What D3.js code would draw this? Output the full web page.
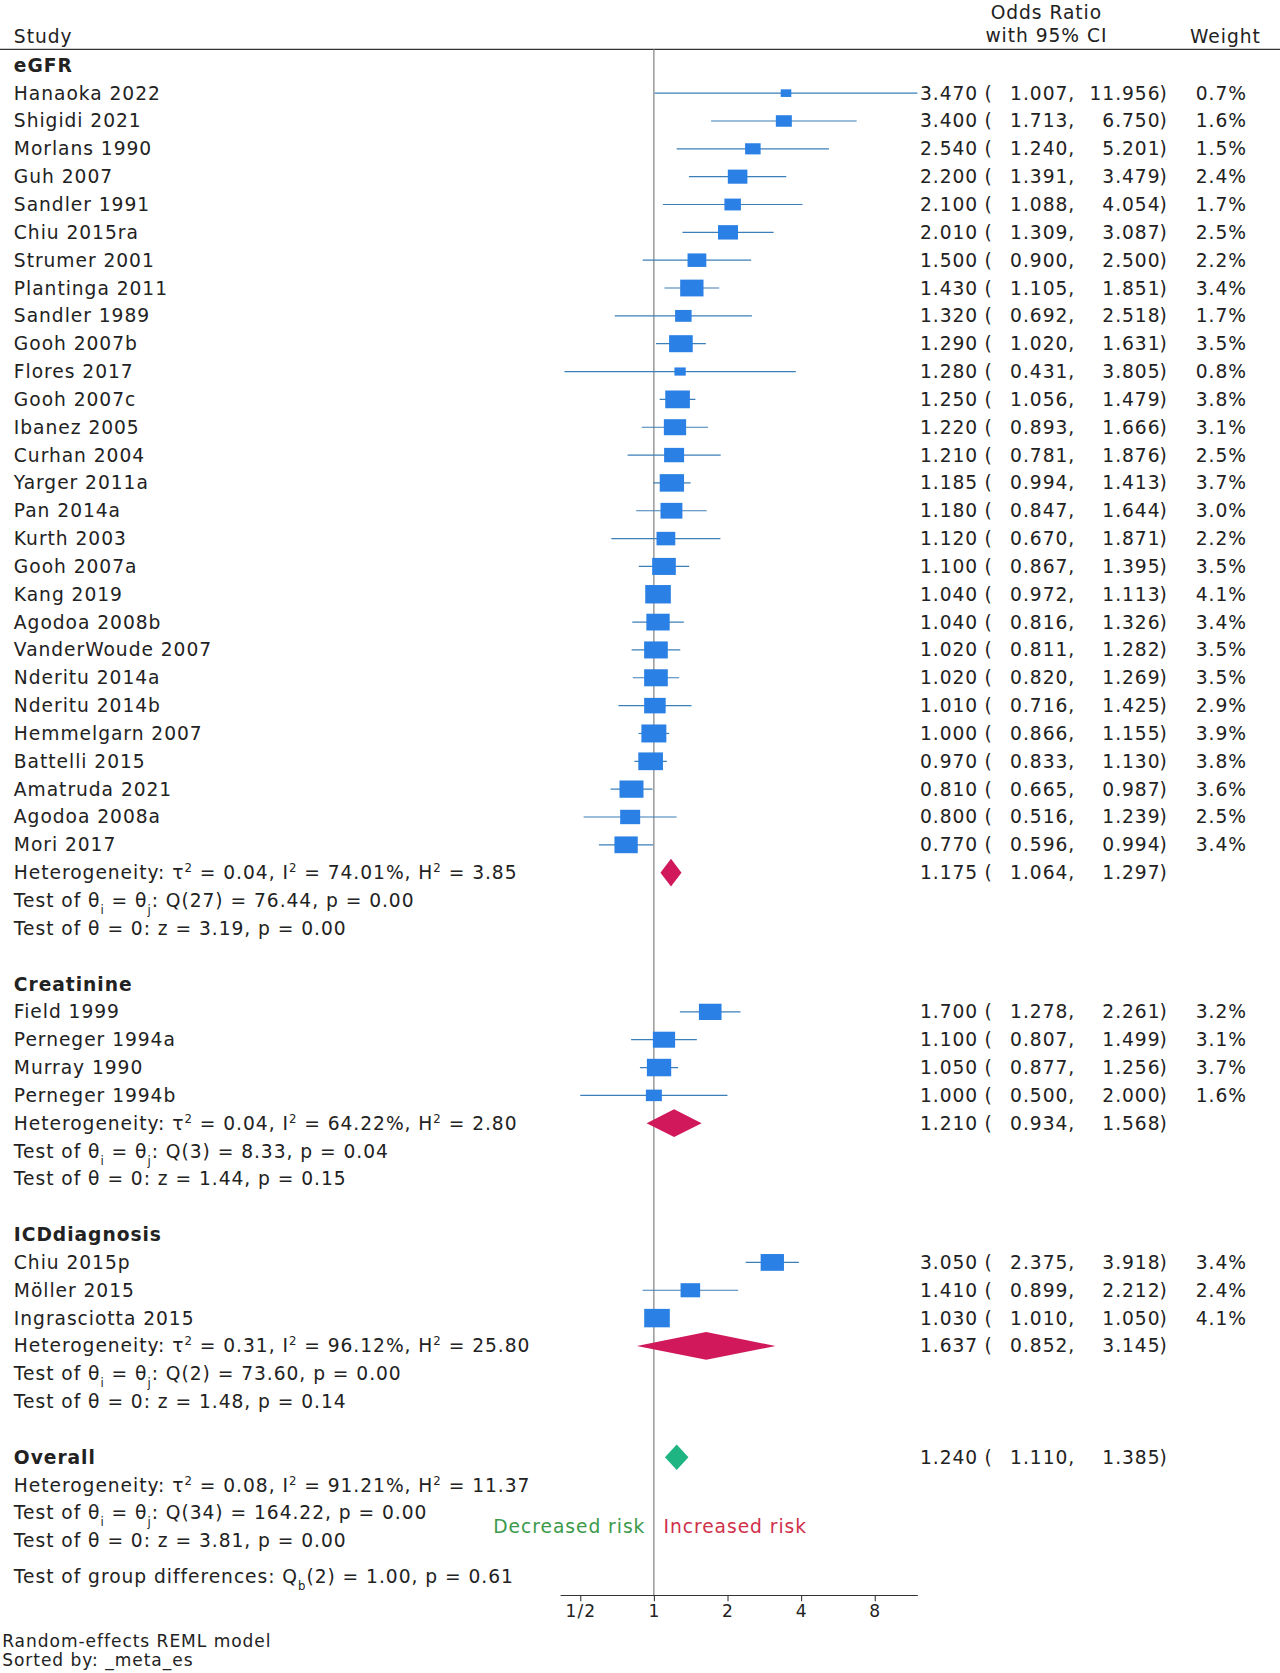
<!DOCTYPE html>
<html><head><meta charset="utf-8">
<script src="https://cdn.jsdelivr.net/npm/d3@7"></script>
<style>
body{margin:0;background:#fff;}
text{font-family:"DejaVu Sans",Arial,sans-serif;font-size:17.5px;letter-spacing:0.9px;fill:#222;}
</style></head><body>
<div id="chart"></div>
<script>
// ---- data ----
var egfrStudies = ["Hanaoka 2022","Shigidi 2021","Morlans 1990","Guh 2007","Sandler 1991","Chiu 2015ra","Strumer 2001","Plantinga 2011","Sandler 1989","Gooh 2007b","Flores 2017","Gooh 2007c","Ibanez 2005","Curhan 2004","Yarger 2011a","Pan 2014a","Kurth 2003","Gooh 2007a","Kang 2019","Agodoa 2008b","VanderWoude 2007","Nderitu 2014a","Nderitu 2014b","Hemmelgarn 2007","Battelli 2015","Amatruda 2021","Agodoa 2008a","Mori 2017"];
var egfrOR = [3.470,3.400,2.540,2.200,2.100,2.010,1.500,1.430,1.320,1.290,1.280,1.250,1.220,1.210,1.185,1.180,1.120,1.100,1.040,1.040,1.020,1.020,1.010,1.000,0.970,0.810,0.800,0.770];
var egfrLo = [1.007,1.713,1.240,1.391,1.088,1.309,0.900,1.105,0.692,1.020,0.431,1.056,0.893,0.781,0.994,0.847,0.670,0.867,0.972,0.816,0.811,0.820,0.716,0.866,0.833,0.665,0.516,0.596];
var egfrHi = [11.956,6.750,5.201,3.479,4.054,3.087,2.500,1.851,2.518,1.631,3.805,1.479,1.666,1.876,1.413,1.644,1.871,1.395,1.113,1.326,1.282,1.269,1.425,1.155,1.130,0.987,1.239,0.994];
var egfrW = [0.7,1.6,1.5,2.4,1.7,2.5,2.2,3.4,1.7,3.5,0.8,3.8,3.1,2.5,3.7,3.0,2.2,3.5,4.1,3.4,3.5,3.5,2.9,3.9,3.8,3.6,2.5,3.4];

var creaStudies = ["Field 1999","Perneger 1994a","Murray 1990","Perneger 1994b"];
var creaOR = [1.700,1.100,1.050,1.000];
var creaLo = [1.278,0.807,0.877,0.500];
var creaHi = [2.261,1.499,1.256,2.000];
var creaW = [3.2,3.1,3.7,1.6];

var icdStudies = ["Chiu 2015p","Möller 2015","Ingrasciotta 2015"];
var icdOR = [3.050,1.410,1.030];
var icdLo = [2.375,0.899,1.010];
var icdHi = [3.918,2.212,1.050];
var icdW = [3.4,2.4,4.1];

var groupNames = ["eGFR","Creatinine","ICDdiagnosis"];
var pooled = [[1.175,1.064,1.297],[1.210,0.934,1.568],[1.637,0.852,3.145]];
var overall = [1.240,1.110,1.385];
// tau2, I2, H2, Q df, Q, p(Q), z, p(z)
var hetText = [
  ["0.04","74.01%","3.85","27","76.44","0.00","3.19","0.00"],
  ["0.04","64.22%","2.80","3","8.33","0.04","1.44","0.15"],
  ["0.31","96.12%","25.80","2","73.60","0.00","1.48","0.14"]
];
var tickVals = [0.5,1,2,4,8];
var tickLabels = ["1/2","1","2","4","8"];

// ---- layout ----
var W = 1200, H = 1568;
var svg = d3.select("#chart").append("svg")
  .attr("width", 1280).attr("height", 1673)
  .attr("viewBox", "0 0 " + W + " " + H);

var x = d3.scaleLog().base(2).domain([1/2.42, 11.95]).range([525, 860]);
var rowStep = 26.1, y0 = 61;
function ry(k) { return y0 + k * rowStep; }
var fmt = d3.format(".3f");
var blue = "#2a80e4", lineCol = "#3c7fb8", red = "#d0185a", green = "#1fb582";

// header
svg.append("text").attr("x", 13).attr("y", 40).text("Study");
svg.append("text").attr("x", 981).attr("y", 18).attr("text-anchor", "middle").text("Odds Ratio");
svg.append("text").attr("x", 981).attr("y", 39).attr("text-anchor", "middle").text("with 95% CI");
svg.append("text").attr("x", 1182).attr("y", 40).attr("text-anchor", "end").text("Weight");
svg.append("line").attr("x1", 0).attr("x2", W).attr("y1", 46).attr("y2", 46).attr("stroke", "#333").attr("stroke-width", 1.2);

// null line
svg.append("line").attr("x1", x(1)).attr("x2", x(1)).attr("y1", 46).attr("y2", 1495)
  .attr("stroke", "#888").attr("stroke-width", 1.2);

function ciText(y, v) {
  svg.append("text").attr("x", 917).attr("y", y).attr("dy", "0.35em").attr("text-anchor", "end").text(fmt(v[0]));
  svg.append("text").attr("x", 923).attr("y", y).attr("dy", "0.35em").text("(");
  svg.append("text").attr("x", 1008).attr("y", y).attr("dy", "0.35em").attr("text-anchor", "end").text(fmt(v[1]) + ",");
  svg.append("text").attr("x", 1088).attr("y", y).attr("dy", "0.35em").attr("text-anchor", "end").text(fmt(v[2]));
  svg.append("text").attr("x", 1087).attr("y", y).attr("dy", "0.35em").text(")");
}

function diamond(y, v, col, hh) {
  var p = [[x(v[1]), y], [x(v[0]), y - hh], [x(v[2]), y], [x(v[0]), y + hh]];
  svg.append("path").attr("d", "M" + p.join("L") + "Z").attr("fill", col);
}

// parts: [text, mode] mode: 0 normal, 1 sup, 2 sub
function richText(xx, y, parts, bold) {
  var t = svg.append("text").attr("x", xx).attr("y", y).attr("dy", "0.35em");
  if (bold) t.style("font-weight", "bold");
  parts.forEach(function (p) {
    var s = t.append("tspan").text(p[0]);
    if (p[1] === 1) s.attr("baseline-shift", "super").style("font-size", "11px");
    if (p[1] === 2) s.attr("baseline-shift", "sub").style("font-size", "11px");
  });
}

function hetLines(k, h) {
  richText(13, ry(k), [["Heterogeneity: τ", 0], ["2", 1], [" = " + h[0] + ", I", 0], ["2", 1], [" = " + h[1] + ", H", 0], ["2", 1], [" = " + h[2], 0]]);
  richText(13, ry(k + 1), [["Test of θ", 0], ["i", 2], [" = θ", 0], ["j", 2], [": Q(" + h[3] + ") = " + h[4] + ", p = " + h[5], 0]]);
  richText(13, ry(k + 2), [["Test of θ = 0: z = " + h[6] + ", p = " + h[7], 0]]);
}

var groups = [
  {names: egfrStudies, or: egfrOR, lo: egfrLo, hi: egfrHi, w: egfrW},
  {names: creaStudies, or: creaOR, lo: creaLo, hi: creaHi, w: creaW},
  {names: icdStudies, or: icdOR, lo: icdLo, hi: icdHi, w: icdW}
];
var sq = d3.scaleSqrt().domain([0, 4.1]).range([0, 24]);

var k = 0;
groups.forEach(function (g, gi) {
  richText(13, ry(k), [[groupNames[gi], 0]], true);
  k++;
  var rows = g.names.map(function (n, i) { return {n: n, or: g.or[i], lo: g.lo[i], hi: g.hi[i], w: g.w[i], k: k + i}; });
  var rg = svg.append("g");
  rg.selectAll("text.nm").data(rows).enter().append("text").attr("class", "nm")
    .attr("x", 13).attr("y", function (d) { return ry(d.k); }).attr("dy", "0.35em").text(function (d) { return d.n; });
  rg.selectAll("line.ci").data(rows).enter().append("line").attr("class", "ci")
    .attr("x1", function (d) { return x(d.lo); }).attr("x2", function (d) { return x(d.hi); })
    .attr("y1", function (d) { return ry(d.k); }).attr("y2", function (d) { return ry(d.k); })
    .attr("stroke", lineCol).attr("stroke-width", 1.1);
  rg.selectAll("rect").data(rows).enter().append("rect")
    .attr("x", function (d) { return x(d.or) - sq(d.w) / 2; })
    .attr("y", function (d) { return ry(d.k) - sq(d.w) * 0.36; })
    .attr("width", function (d) { return sq(d.w); })
    .attr("height", function (d) { return sq(d.w) * 0.72; })
    .attr("fill", blue);
  rows.forEach(function (d) {
    ciText(ry(d.k), [d.or, d.lo, d.hi]);
    svg.append("text").attr("x", 1169).attr("y", ry(d.k)).attr("dy", "0.35em").attr("text-anchor", "end").text(d.w.toFixed(1) + "%");
  });
  k += rows.length;
  diamond(ry(k), pooled[gi], red, 13);
  ciText(ry(k), pooled[gi]);
  hetLines(k, hetText[gi]);
  k += 4;
});

// overall
richText(13, ry(k), [["Overall", 0]], true);
diamond(ry(k), overall, green, 12);
ciText(ry(k), overall);
richText(13, ry(k + 1), [["Heterogeneity: τ", 0], ["2", 1], [" = 0.08, I", 0], ["2", 1], [" = 91.21%, H", 0], ["2", 1], [" = 11.37", 0]]);
richText(13, ry(k + 2), [["Test of θ", 0], ["i", 2], [" = θ", 0], ["j", 2], [": Q(34) = 164.22, p = 0.00", 0]]);
richText(13, ry(k + 3), [["Test of θ = 0: z = 3.81, p = 0.00", 0]]);
richText(13, 1478, [["Test of group differences: Q", 0], ["b", 2], ["(2) = 1.00, p = 0.61", 0]]);

svg.append("text").attr("x", x(1) - 8).attr("y", ry(k + 3) - 13).attr("dy", "0.35em").attr("text-anchor", "end")
  .style("fill", "#3a9a4a").text("Decreased risk");
svg.append("text").attr("x", x(1) + 9).attr("y", ry(k + 3) - 13).attr("dy", "0.35em")
  .style("fill", "#d0304a").text("Increased risk");

// axis
var axis = d3.axisBottom(x).tickValues(tickVals).tickFormat(function (d, i) { return tickLabels[i]; }).tickSize(6).tickSizeOuter(0);
var ag = svg.append("g").attr("transform", "translate(0,1495)").call(axis);
ag.select(".domain").attr("stroke", "#333");
ag.selectAll(".tick line").attr("stroke", "#333");
ag.selectAll(".tick text").style("font-size", "16px").style("font-family", "DejaVu Sans, Arial, sans-serif").attr("fill", "#222");

svg.append("text").attr("x", 2).attr("y", 1544).style("font-size", "16px").text("Random-effects REML model");
svg.append("text").attr("x", 2).attr("y", 1562).style("font-size", "16px").text("Sorted by: _meta_es");
</script>
</body></html>
